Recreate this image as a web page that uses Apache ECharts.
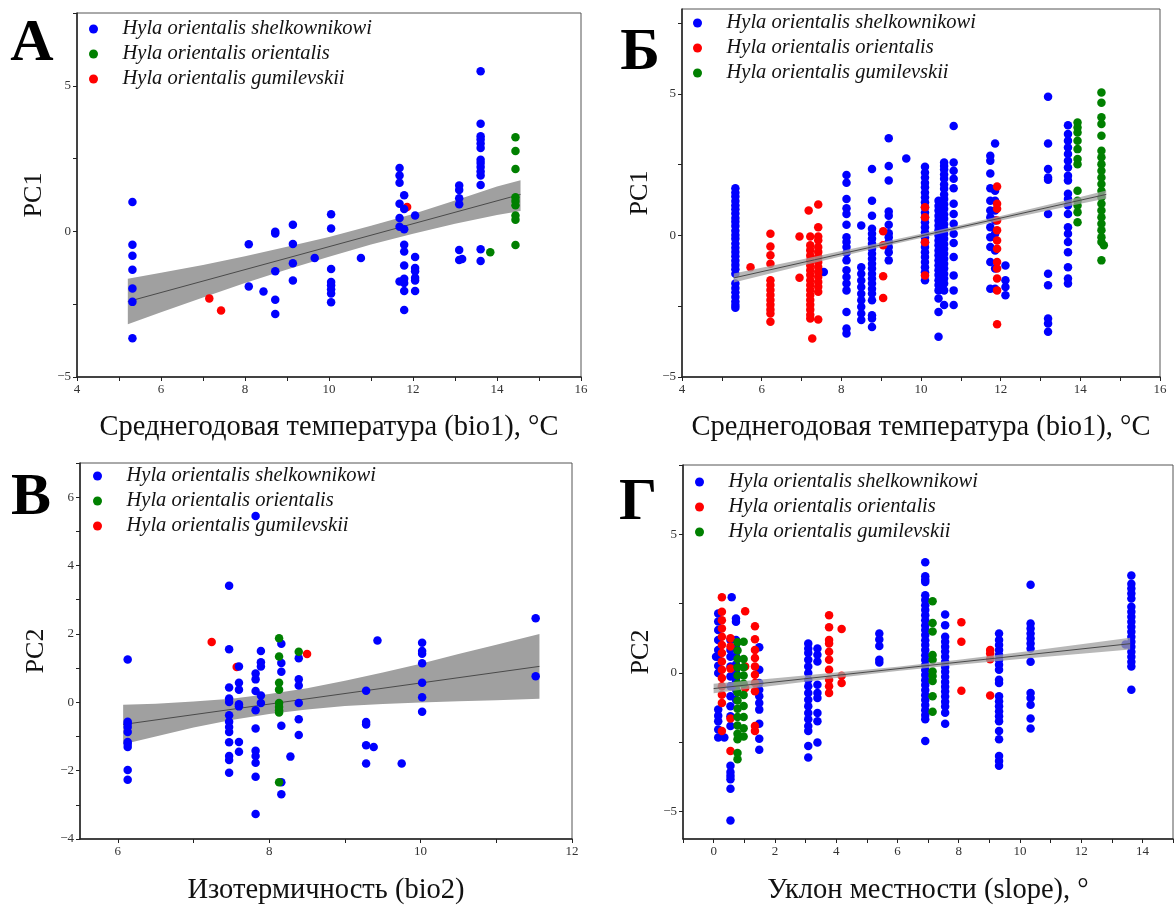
<!DOCTYPE html>
<html><head><meta charset="utf-8">
<script src="https://cdn.jsdelivr.net/npm/echarts@6/dist/echarts.min.js"></script>
<style>html,body{margin:0;padding:0;background:#fff}#c{width:1176px;height:906px}</style>
</head><body><div id="c"></div>
<script>
// ---------- DATA ----------
const speciesNames = ['Hyla orientalis shelkownikowi','Hyla orientalis orientalis','Hyla orientalis gumilevskii'];
const panelLetters = ['\u0410','\u0411','\u0412','\u0413'];
const xTitles = ['Среднегодовая температура (bio1), °C','Среднегодовая температура (bio1), °C','Изотермичность (bio2)','Уклон местности (slope), °'];
const yTitles = ['PC1','PC1','PC2','PC2'];

// tick / label values
const xTicksAB = [4,5,6,7,8,9,10,11,12,13,14,15,16];
const xLabelsAB = [4,6,8,10,12,14,16];
const yTicksA = [-5,-2.5,0,2.5,5,7.5];
const yLabelsA = [-5,0,5];
const xTicksC = [6,7,8,9,10,11,12];
const xLabelsC = [6,8,10,12];
const yTicksC = [-4,-3,-2,-1,0,1,2,3,4,5,6,7];
const yLabelsC = [-4,-2,0,2,4,6];
const xTicksD = [-1,0,1,2,3,4,5,6,7,8,9,10,11,12,13,14,15];
const xLabelsD = [0,2,4,6,8,10,12,14];
const yTicksD = [-5,-2.5,0,2.5,5,7.5];
const yLabelsD = [-5,0,5];

// Panel A (bio1 vs PC1): [x, [y...]]
const aBlueCols = [
 [5.32,[1.01,-0.46,-0.84,-1.32,-1.96,-2.42,-3.67]],
 [8.09,[-0.44,-1.89]],
 [8.44,[-2.06]],
 [8.72,[-0.01,-0.07,-1.37,-2.35,-2.84]],
 [9.14,[0.23,-0.43,-1.09,-1.69]],
 [9.66,[-0.91]],
 [10.05,[0.59,0.10,-1.29,-1.74,-1.85,-1.99,-2.13,-2.43]],
 [10.76,[-0.91]],
 [11.68,[2.18,1.92,1.67,0.95,0.46,0.16,-1.72]],
 [11.79,[1.24,0.77,0.07,-0.46,-0.69,-1.17,-1.63,-1.77,-2.05,-2.70]],
 [12.05,[0.55,-0.88,-1.26,-1.37,-1.59,-1.69,-2.05]],
 [13.10,[1.58,1.42,1.14,0.93,-0.64,-0.98]],
 [13.17,[-0.95]],
 [13.61,[5.50,3.70,3.27,3.16,3.02,2.86,2.46,2.35,2.21,2.06,1.92,1.59,-0.61,-1.02]]
];
const aGreenCols = [[13.84,[-0.72]],[14.44,[3.23,2.76,2.14,1.17,1.04,0.90,0.55,0.40,-0.47]]];
const aRedCols = [[7.15,[-2.30]],[7.43,[-2.72]],[11.86,[0.84]]];
const aLineX = [5.21,14.56], aLineY = [-2.41,1.27];
const aBandX = [5.21,6,7,8,9,10,11,12,13,14,14.56];
const aBandUp = [-1.63,-1.42,-1.15,-0.85,-0.53,-0.19,0.19,0.60,1.06,1.54,1.76];
const aBandLo = [-3.19,-2.78,-2.27,-1.77,-1.31,-0.87,-0.45,-0.08,0.26,0.56,0.70];

// Panel B (bio1 vs PC1)
const bBlueCols = [
 [5.34,[1.67,1.52,1.38,1.22,1.07,0.93,0.78,0.62,0.48,0.33,0.17,0.02,-0.12,-0.28,-0.43,-0.58,-0.73,-0.89,-1.04,-1.19,-1.35,-1.70,-1.86,-2.01,-2.17,-2.33,-2.46,-2.55]],
 [7.56,[-1.29]],
 [8.13,[2.14,1.86,1.29,0.96,0.76,0.38,-0.06,-0.23,-0.41,-0.62,-0.88,-1.23,-1.47,-1.70,-1.94,-2.70,-3.29,-3.46]],
 [8.50,[0.35,-1.12,-1.35,-1.59,-1.82,-2.06,-2.29,-2.52,-2.76,-2.99]],
 [8.77,[2.35,1.23,0.70,0.24,0.06,-0.12,-0.29,-0.47,-0.65,-0.82,-1.00,-1.17,-1.35,-1.52,-1.70,-1.88,-2.05,-2.29,-2.82,-2.93,-3.23]],
 [9.19,[3.43,2.45,1.94,0.85,0.70,0.38,0.08,-0.06,-0.23,-0.41,-0.59,-0.88]],
 [9.63,[2.72]],
 [10.10,[2.43,2.22,2.05,1.86,1.70,1.52,1.35,1.17,1.00,0.81,0.64,0.47,0.29,0.11,-0.06,-0.24,-0.41,-0.59,-0.76,-0.94,-1.12,-1.30,-1.58]],
 [10.44,[1.23,1.05,0.88,0.70,0.53,0.35,0.18,0.00,-0.18,-0.35,-0.53,-0.70,-0.88,-1.05,-1.23,-1.40,-1.58,-1.75,-1.94,-2.23,-2.70,-3.58]],
 [10.58,[2.58,2.45,2.33,2.15,2.00,1.80,1.65,1.45,1.29,1.10,0.94,0.75,0.59,0.40,0.24,0.05,-0.12,-0.30,-0.47,-0.65,-0.82,-1.00,-1.17,-1.35,-1.52,-1.70,-1.94,-2.46]],
 [10.82,[3.87,2.58,2.29,2.00,1.67,1.12,0.76,0.41,0.06,-0.27,-0.76,-1.41,-1.94,-2.46]],
 [11.74,[2.82,2.64,2.19,1.67,1.23,0.88,0.64,0.29,-0.06,-0.41,-0.94,-1.88]],
 [11.86,[3.25,1.58,1.23,0.88,0.53,0.06,-0.53,-1.17,-1.88]],
 [12.12,[-1.06,-1.58,-1.82,-2.11]],
 [13.19,[4.90,3.25,2.35,2.05,1.97,0.76,-1.35,-1.76,-2.93,-3.11,-3.40]],
 [13.69,[3.89,3.58,3.35,3.11,2.88,2.64,2.40,2.11,1.94,1.47,1.29,1.06,0.76,0.29,0.06,-0.23,-0.59,-1.12,-1.52,-1.70]]
];
const bRedCols = [
 [5.72,[-1.12]],
 [6.22,[0.06,-0.39,-0.70,-1.00,-1.58,-1.75,-1.93,-2.10,-2.28,-2.45,-2.62,-2.76,-3.05]],
 [6.95,[-0.04,-1.49]],
 [7.18,[0.88]],
 [7.22,[-0.04,-0.35,-0.52,-0.71,-0.88,-1.05,-1.23,-1.40,-1.58,-1.75,-1.93,-2.10,-2.28,-2.45,-2.62,-2.80,-2.93]],
 [7.27,[-3.64]],
 [7.42,[1.09,0.29,-0.04,-0.17,-0.41,-0.58,-0.76,-0.94,-1.11,-1.29,-1.46,-1.64,-1.81,-1.99,-2.97]],
 [9.05,[0.15,-0.35,-1.44,-2.21]],
 [10.10,[1.00,0.64,-0.24,-1.41]],
 [11.91,[1.73,1.12,0.94,0.53,0.18,-0.18,-0.47,-0.94,-1.17,-1.52,-1.94,-3.14]]
];
const bGreenCols = [
 [13.93,[3.99,3.81,3.64,3.35,3.05,2.70,2.52,1.58,1.23,1.06,0.82,0.47]],
 [14.53,[5.05,4.69,4.18,3.94,3.52,2.99,2.76,2.52,2.29,2.05,1.82,1.58,1.35,1.12,0.88,0.64,0.41,0.18,-0.06,-0.23,-0.88]],
 [14.59,[-0.35]]
];
const bLineX = [5.3,14.65], bLineY = [-1.50,1.45];
const bBandX = [5.3,7,9,10.5,12,14,14.65];
const bBandUp = [-1.34,-0.85,-0.25,0.21,0.69,1.36,1.59];
const bBandLo = [-1.66,-1.07,-0.41,0.07,0.53,1.12,1.31];

// Panel C (bio2 vs PC2)
const cBlueCols = [
 [6.13,[1.25,-0.57,-0.62,-0.72,-0.87,-1.16,-1.22,-1.31,-1.98,-2.27]],
 [7.47,[3.41,1.55,0.43,0.11,0.01,-0.38,-0.57,-0.72,-0.87,-1.17,-1.57,-1.69,-2.06]],
 [7.60,[1.05,0.57,0.37,-0.06,-0.12,-1.16,-1.45]],
 [7.82,[5.45,0.84,0.67,0.33,-0.23,-0.77,-1.42,-1.57,-1.77,-2.18,-3.27]],
 [7.89,[1.50,1.17,1.05,0.20,-0.02]],
 [8.16,[1.71,1.15,0.89,-0.69,-2.34,-2.69]],
 [8.28,[-1.59]],
 [8.39,[1.29,0.67,0.49,-0.02,-0.50,-0.96]],
 [9.28,[0.34,-0.58,-0.65,-1.26,-1.79]],
 [9.38,[-1.31]],[9.43,[1.81]],[9.75,[-1.79]],
 [10.02,[1.74,1.50,1.42,1.14,0.57,0.15,-0.28]],
 [11.52,[2.46,0.76]]
];
const cGreenCols = [[8.13,[1.87,1.34,0.57,0.37,-0.02,-0.14,-0.23,-0.30,-2.34]],[8.39,[1.48]]];
const cRedCols = [[7.24,[1.76]],[7.57,[1.03]],[8.50,[1.41]]];
const cLineX = [6.07,11.57], cLineY = [-0.65,1.05];
const cBandX = [6.07,6.5,7,7.5,8,8.5,9,9.5,10,10.5,11,11.57];
const cBandUp = [-0.07,-0.04,0.02,0.10,0.24,0.41,0.63,0.87,1.13,1.41,1.68,2.00];
const cBandLo = [-1.23,-1.00,-0.74,-0.52,-0.34,-0.21,-0.11,-0.05,-0.01,0.03,0.06,0.10];

// Panel D (slope vs PC2)
const dBlueCols = [
 [0.08,[0.58]],
 [0.15,[2.14,1.85,1.54,1.18,0.82,0.58,0.25,-0.01,-1.33,-1.55,-1.75,-2.05,-2.34]],
 [0.35,[-2.34]],
 [0.55,[1.18,0.82,0.58,0.23,-0.13,-0.49,-0.85,-1.21,-1.57,-1.92,-3.36,-3.58,-3.72,-3.84,-4.19,-5.33]],
 [0.59,[2.73]],
 [0.73,[1.96,1.84,1.18,0.90,0.60,0.30,0.00,-0.30,-0.60,-0.97]],
 [1.49,[0.92,0.11,-0.37,-0.61,-0.85,-1.09,-1.33,-1.84,-2.38,-2.78]],
 [3.09,[1.06,0.88,0.71,0.47,0.23,-0.01,-0.25,-0.49,-0.73,-0.97,-1.21,-1.45,-1.68,-1.92,-2.10,-2.64,-3.06]],
 [3.39,[0.88,0.65,0.41,-0.43,-0.73,-0.91,-1.45,-1.75,-2.52]],
 [5.41,[1.42,1.20,0.97,0.47,0.37]],
 [6.91,[3.99,3.48,3.36,3.28,2.80,2.63,2.44,2.27,2.08,1.90,1.71,1.54,1.36,1.17,1.00,0.82,0.63,0.46,0.28,0.10,-0.08,-0.27,-0.44,-0.62,-0.81,-0.98,-1.16,-1.35,-1.52,-1.68,-2.46]],
 [7.56,[2.10,1.72,1.30,1.12,0.94,0.77,0.58,0.40,0.21,0.04,-0.14,-0.33,-0.50,-0.68,-0.86,-1.05,-1.22,-1.44,-1.84]],
 [9.32,[1.42,1.18,1.00,0.82,0.65,0.47,0.29,0.11,-0.25,-0.37,-0.85,-1.03,-1.21,-1.39,-1.57,-1.75,-2.10,-2.40,-3.00,-3.18,-3.36]],
 [10.35,[3.18,1.78,1.60,1.42,1.24,1.06,0.88,0.40,-0.73,-0.91,-1.15,-1.65,-2.01]],
 [13.45,[1.02]],
 [13.64,[3.51,3.21,3.04,2.86,2.68,2.38,2.20,2.02,1.84,1.66,1.48,1.30,1.12,0.94,0.76,0.58,0.40,0.23,-0.61]]
];
const dRedCols = [
 [0.27,[2.73,2.20,1.90,1.60,1.30,1.00,0.71,0.41,0.11,-0.19,-0.49,-0.79,-1.09,-2.10]],
 [0.55,[1.25,0.95,0.15,-1.65,-2.82]],
 [1.03,[2.22,0.23,-0.55]],
 [1.35,[1.68,1.21,0.82,0.53,0.23,-0.07,-0.37,-0.67,-1.92,-2.10]],
 [3.77,[2.08,1.64,1.18,1.06,0.76,0.47,0.11,-0.25,-0.49,-0.73]],
 [4.18,[1.58,-0.11,-0.37]],
 [8.09,[1.82,1.12,-0.65]],
 [9.03,[0.82,0.70,0.49,-0.82]]
];
const dGreenCols = [
 [0.78,[1.10,0.80,0.50,0.20,-0.10,-0.40,-0.70,-1.00,-1.30,-1.60,-1.90,-2.20,-2.40,-2.90,-3.12]],
 [0.98,[1.12,0.50,0.20,-0.10,-0.40,-0.80,-1.20,-1.60,-2.00,-2.30]],
 [7.15,[2.58,1.80,1.49,0.64,0.47,0.05,-0.12,-0.30,-0.85,-1.41]]
];
const dLineX = [0,13.6], dLineY = [-0.57,1.05];
const dBandX = [0,2,4,6,8,10,12,13.6];
const dBandUp = [-0.40,-0.20,0.01,0.22,0.47,0.74,1.03,1.26];
const dBandLo = [-0.74,-0.46,-0.19,0.06,0.29,0.50,0.69,0.84];

// ---------- BUILD ----------
const BLUE='#0000ff', GREEN='#008000', RED='#ff0000';
const FONT='"Liberation Serif","Times New Roman",serif';
const flat = cols => { const out=[]; cols.forEach(c=>c[1].forEach(y=>out.push([c[0],y]))); return out; };
const zw = i => '\u200b'.repeat(i+1);
const fmt = v => String(v).replace('-', '\u2212');

const grids = [
 {left:77, top:13, width:504, height:364},
 {left:682, top:9, width:478, height:368},
 {left:80, top:463, width:492, height:377},
 {left:683, top:465, width:490, height:375}
];
function axis(i, min, max, ticks, labels, name, gap, nameSize){
  return {
    gridIndex:i, type:'value', min, max,
    name, nameLocation:'middle', nameGap:gap,
    nameTextStyle:{fontFamily:FONT, fontSize:nameSize, color:'#111'},
    axisLine:{show:true, onZero:false, lineStyle:{color:'#222', width:1.5}},
    axisTick:{show:true, inside:false, length:4, customValues:ticks, lineStyle:{color:'#222', width:1}},
    axisLabel:{show:true, customValues:labels, formatter:fmt, fontFamily:FONT, fontSize:13, color:'#333', margin:6},
    splitLine:{show:false}
  };
}
const xAxes = [
 axis(0,4,16,xTicksAB,xLabelsAB,xTitles[0],36,28.5),
 axis(1,4,16,xTicksAB,xLabelsAB,xTitles[1],36,28.5),
 axis(2,5.5,12,xTicksC,xLabelsC,xTitles[2],37,28.5),
 axis(3,-1,15,xTicksD,xLabelsD,xTitles[3],37,28.5)
];
const yAxes = [
 axis(0,-5,7.5,yTicksA,yLabelsA,yTitles[0],30,26),
 axis(1,-5,8,yTicksA,yLabelsA,yTitles[1],29,26),
 axis(2,-4,7,yTicksC,yLabelsC,yTitles[2],31,26),
 axis(3,-6,7.5,yTicksD,yLabelsD,yTitles[3],29,26)
];

const series = [];
function scatter(i, nameIdx, color, cols, z){
  series.push({type:'scatter', name:speciesNames[nameIdx]+zw(i), xAxisIndex:i, yAxisIndex:i,
    symbol:'circle', symbolSize:8.5, itemStyle:{color, opacity:1}, z, data:flat(cols)});
}
function band(i, xs, up, lo, lx, ly, z, op){
  series.push({type:'custom', xAxisIndex:i, yAxisIndex:i, silent:true, z, clip:true,
    data:[[xs[0], up[0]]],
    renderItem:(p, api) => {
      const pts=[];
      for (let k=0;k<xs.length;k++) pts.push(api.coord([xs[k], up[k]]));
      for (let k=xs.length-1;k>=0;k--) pts.push(api.coord([xs[k], lo[k]]));
      return {type:'polygon', shape:{points:pts, smooth:0}, style:{fill:'#a0a0a0', opacity:op}};
    }});
  series.push({type:'line', xAxisIndex:i, yAxisIndex:i, silent:true, z:z+0.1, showSymbol:false, symbol:'none',
    lineStyle:{color:'#4a4a4a', width:1}, data:[[lx[0],ly[0]],[lx[1],ly[1]]]});
}
// Panel A: band under points
band(0, aBandX, aBandUp, aBandLo, aLineX, aLineY, 1, 1);
scatter(0, 2, RED, aRedCols, 2);
scatter(0, 0, BLUE, aBlueCols, 3);
scatter(0, 1, GREEN, aGreenCols, 4);
// Panel B: band over points
scatter(1, 0, BLUE, bBlueCols, 2);
scatter(1, 1, RED, bRedCols, 3);
scatter(1, 2, GREEN, bGreenCols, 4);
band(1, bBandX, bBandUp, bBandLo, bLineX, bLineY, 5, 0.75);
// Panel C
band(2, cBandX, cBandUp, cBandLo, cLineX, cLineY, 1, 1);
scatter(2, 2, RED, cRedCols, 2);
scatter(2, 0, BLUE, cBlueCols, 3);
scatter(2, 1, GREEN, cGreenCols, 4);
// Panel D
scatter(3, 0, BLUE, dBlueCols, 2);
scatter(3, 1, RED, dRedCols, 3);
scatter(3, 2, GREEN, dGreenCols, 4);
band(3, dBandX, dBandUp, dBandLo, dLineX, dLineY, 5, 0.75);

function legend(i, order, left, top){
  return {orient:'vertical', left, top, padding:0, itemWidth:48, itemHeight:9, itemGap:5,
    icon:'circle', selectedMode:false,
    data: order.map(k => speciesNames[k]+zw(i)),
    formatter: n => n.replace(/\u200b/g,''),
    textStyle:{fontFamily:FONT, fontStyle:'italic', fontSize:20.5, lineHeight:20, color:'#111'}};
}
const legends = [
  legend(0,[0,1,2],89,19),
  legend(1,[0,1,2],693,13),
  legend(2,[0,1,2],93,466),
  legend(3,[0,1,2],695,472)
];
const letterPos = [[32,44],[640,53],[31,498],[638,503]];
const graphic = panelLetters.map((t,i)=>({type:'text', x:letterPos[i][0], y:letterPos[i][1], z:100,
  style:{text:t, font:'bold 60px '+FONT, fill:'#000', align:'center', verticalAlign:'middle'}}));

const chart = echarts.init(document.getElementById('c'), null, {renderer:'canvas'});
chart.setOption({
  animation:false,
  backgroundColor:'#fff',
  grid: grids.map(g=>Object.assign({show:true, borderColor:'#555', borderWidth:1, backgroundColor:'transparent'}, g)),
  xAxis:xAxes, yAxis:yAxes, legend:legends, series, graphic
});
</script></body></html>
